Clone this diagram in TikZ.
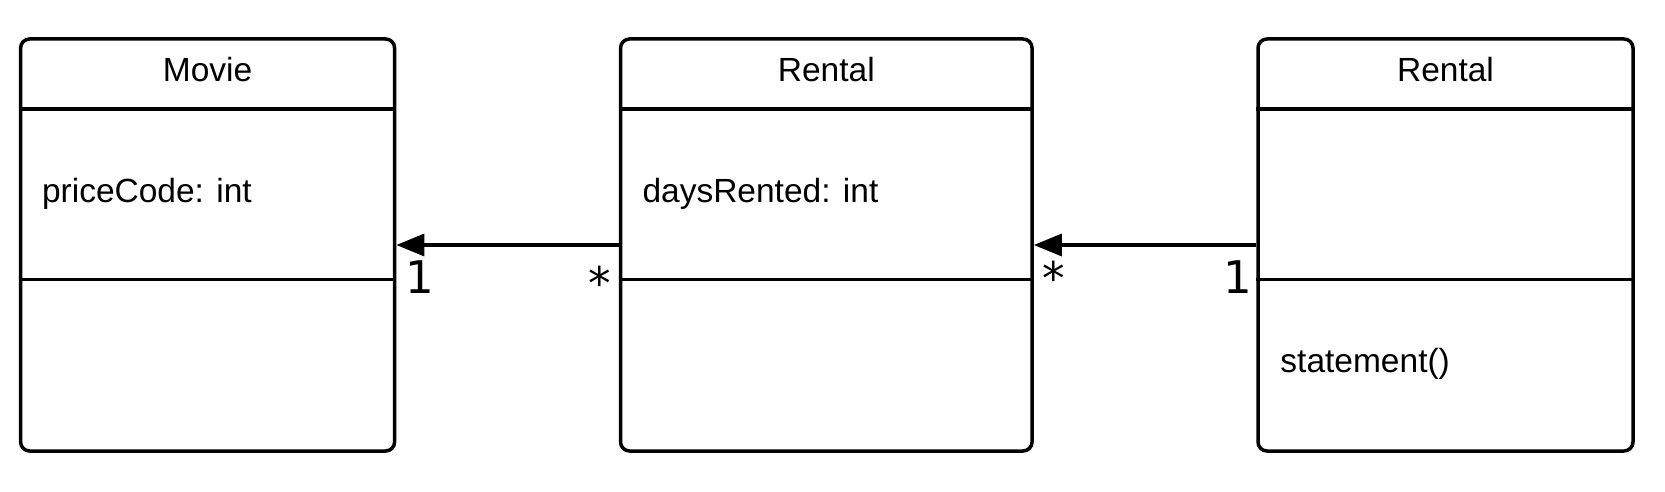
\documentclass[tikz,border=0pt]{standalone}
\usepackage{fontspec}
\setmainfont{Liberation Sans}
\newfontfamily\multfont{DejaVu Sans}
\usetikzlibrary{arrows.meta}

\tikzset{
  classbox/.style={draw, line width=3.5pt, rounded corners=9pt, minimum height=412pt, inner sep=0pt},
  sepline/.style={line width=3.5pt},
  classname/.style={anchor=base, inner sep=0pt, font=\fontsize{33.5}{40}\selectfont},
  member/.style={anchor=base west, inner sep=0pt, font=\fontsize{33.5}{40}\selectfont},
  mult/.style={inner sep=0pt, font=\multfont\fontsize{45}{54}\selectfont},
  assoc/.style={line width=3.5pt, -{Triangle[length=28pt,width=22pt]}},
}

\begin{document}
\begin{tikzpicture}[x=1pt,y=1pt,yscale=-1,xscale=1]
\useasboundingbox (0,0) rectangle (1665,492);

% Class boxes
\node[classbox, minimum width=374pt] (movie) at (207.6,245) {};
\node[classbox, minimum width=411.5pt] (rental) at (826.3,245) {};
\node[classbox, minimum width=375pt] (rentalb) at (1445.5,245) {};

% Compartment lines
\foreach \c in {movie,rental,rentalb} {
  \draw[sepline] ([yshift=71.7pt]\c.north west) -- ([yshift=71.7pt]\c.north east);
  \draw[sepline] ([yshift=242pt]\c.north west) -- ([yshift=242pt]\c.north east);
}

% Class names
\node[classname] (movietitle) at ([yshift=44pt]movie.north) {Movie};
\node[classname] (rentaltitle) at ([yshift=44pt]rental.north) {Rental};
\node[classname] (rentalbtitle) at ([yshift=44pt]rentalb.north) {Rental};

% Members
\node[member] (pricecode) at ([xshift=23pt,yshift=165pt]movie.north west) {priceCode: int};
\node[member] (daysrented) at ([xshift=23.5pt,yshift=165pt]rental.north west) {daysRented: int};
\node[member] (statement) at ([xshift=24pt,yshift=335pt]rentalb.north west) {statement()};

% Associations
\draw[assoc] (rental.west) -- (movie.east);
\draw[assoc] (rentalb.west) -- (rental.east);

% Multiplicities
\node[mult, anchor=base west] (mmovie) at ([xshift=8.5pt,yshift=48pt]movie.east) {1};
\node[mult, anchor=base east] (mrentall) at ([xshift=-8pt,yshift=54pt]rental.west) {*};
\node[mult, anchor=base west] (mrentalr) at ([xshift=8.7pt,yshift=49pt]rental.east) {*};
\node[mult, anchor=base east] (mrentalb) at ([xshift=-4.4pt,yshift=48pt]rentalb.west) {1};

\end{tikzpicture}
\end{document}
